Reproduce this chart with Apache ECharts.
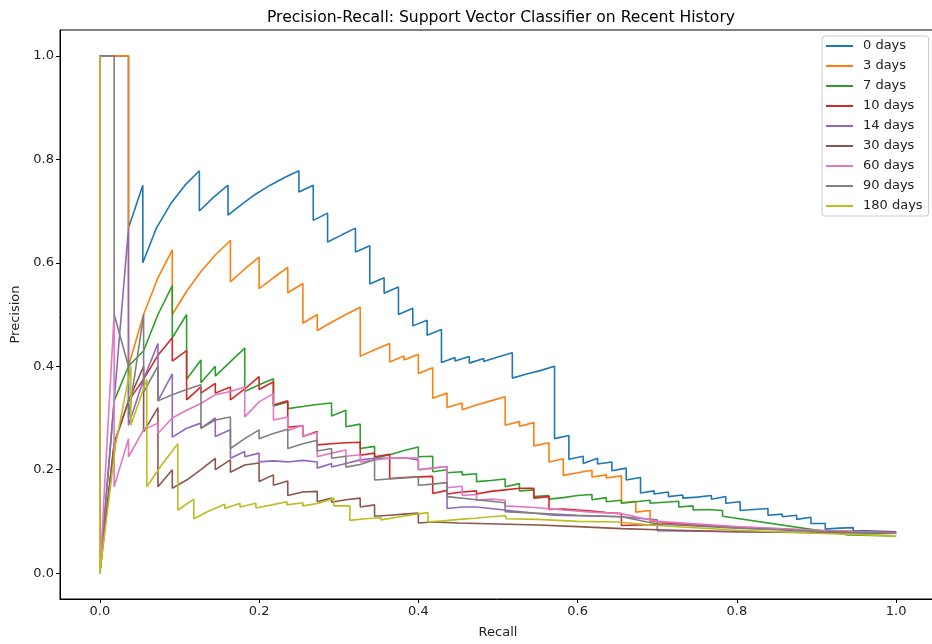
<!DOCTYPE html>
<html>
<head>
<meta charset="utf-8">
<script src="https://cdn.jsdelivr.net/npm/echarts@6/dist/echarts.min.js"></script>
<style>
  html, body { margin: 0; padding: 0; background: #ffffff; }
  #chart { width: 932px; height: 644px; }
</style>
</head>
<body>
<div id="chart"></div>
<script>
// Precision-recall curves, one per history window (recall on x, precision on y).
const seriesNames = ['0 days', '3 days', '7 days', '10 days', '14 days', '30 days', '60 days', '90 days', '180 days'];
const seriesColors = ['#1f77b4', '#ff7f0e', '#2ca02c', '#d62728', '#9467bd', '#8c564b', '#e377c2', '#7f7f7f', '#bcbd22'];
const xTicks = [0.0, 0.2, 0.4, 0.6, 0.8, 1.0];
const yTicks = [0.0, 0.2, 0.4, 0.6, 0.8, 1.0];

const recall0 = [0,0.036,0.036,0.054,0.054,0.071,0.089,0.107,0.125,0.125,0.143,0.161,0.161,0.179,0.196,0.214,0.232,0.25,0.25,0.268,0.268,0.286,0.286,0.304,0.321,0.321,0.339,0.339,0.357,0.357,0.375,0.375,0.393,0.393,0.411,0.411,0.429,0.429,0.446,0.446,0.464,0.464,0.482,0.482,0.5,0.518,0.518,0.536,0.554,0.571,0.571,0.589,0.589,0.607,0.607,0.625,0.625,0.643,0.643,0.661,0.661,0.679,0.679,0.696,0.696,0.714,0.714,0.732,0.732,0.75,0.768,0.768,0.786,0.786,0.804,0.804,0.821,0.839,0.839,0.857,0.857,0.875,0.875,0.893,0.893,0.911,0.911,0.929,0.946,0.946,0.964,0.982,1.0];
const precision0 = [1.0,1.0,0.667,0.75,0.6,0.667,0.714,0.75,0.778,0.7,0.727,0.75,0.692,0.714,0.733,0.75,0.765,0.778,0.737,0.75,0.682,0.696,0.64,0.654,0.667,0.621,0.633,0.559,0.571,0.541,0.553,0.5,0.512,0.478,0.489,0.46,0.471,0.407,0.417,0.41,0.419,0.406,0.415,0.409,0.418,0.426,0.377,0.385,0.392,0.4,0.26,0.266,0.22,0.226,0.212,0.222,0.211,0.215,0.198,0.203,0.18,0.185,0.155,0.159,0.153,0.157,0.148,0.151,0.145,0.147,0.15,0.143,0.148,0.135,0.138,0.121,0.123,0.125,0.112,0.114,0.109,0.112,0.104,0.108,0.096,0.096,0.085,0.087,0.088,0.082,0.082,0.081,0.08];

const recall3 = [0,0.036,0.036,0.055,0.073,0.091,0.091,0.109,0.127,0.145,0.164,0.164,0.182,0.2,0.2,0.218,0.236,0.236,0.255,0.255,0.273,0.273,0.291,0.309,0.327,0.327,0.345,0.364,0.364,0.382,0.382,0.4,0.4,0.418,0.418,0.436,0.436,0.455,0.455,0.473,0.491,0.509,0.509,0.527,0.527,0.545,0.545,0.564,0.564,0.582,0.582,0.6,0.618,0.618,0.636,0.636,0.655,0.655,0.673,0.673,0.691,0.691,0.75,0.8,0.9,1.0];
const precision3 = [1.0,1.0,0.4,0.5,0.571,0.625,0.5,0.545,0.583,0.615,0.643,0.563,0.588,0.611,0.55,0.571,0.591,0.542,0.56,0.483,0.5,0.469,0.485,0.5,0.514,0.419,0.432,0.444,0.408,0.42,0.412,0.423,0.386,0.397,0.338,0.348,0.32,0.329,0.316,0.325,0.333,0.341,0.286,0.293,0.284,0.291,0.246,0.252,0.215,0.221,0.189,0.194,0.199,0.186,0.19,0.184,0.188,0.136,0.139,0.118,0.121,0.1,0.093,0.089,0.083,0.077];

const recall7 = [0,0,0.018,0.036,0.055,0.073,0.091,0.091,0.109,0.109,0.127,0.127,0.145,0.145,0.164,0.182,0.182,0.2,0.218,0.218,0.236,0.236,0.255,0.273,0.291,0.291,0.309,0.309,0.327,0.327,0.345,0.345,0.364,0.382,0.4,0.4,0.418,0.418,0.436,0.436,0.455,0.455,0.473,0.473,0.491,0.509,0.509,0.527,0.527,0.545,0.545,0.564,0.564,0.582,0.6,0.618,0.618,0.636,0.636,0.655,0.655,0.673,0.691,0.691,0.709,0.727,0.727,0.745,0.745,0.764,0.782,0.782,0.94,1.0];
const precision7 = [1.0,0,0.333,0.4,0.43,0.5,0.556,0.455,0.5,0.375,0.412,0.368,0.4,0.381,0.409,0.435,0.351,0.364,0.376,0.323,0.331,0.318,0.322,0.326,0.329,0.304,0.315,0.283,0.288,0.241,0.245,0.222,0.229,0.237,0.244,0.225,0.226,0.196,0.2,0.194,0.196,0.19,0.192,0.177,0.179,0.182,0.167,0.173,0.159,0.161,0.148,0.15,0.143,0.146,0.15,0.152,0.142,0.146,0.138,0.141,0.135,0.138,0.141,0.135,0.137,0.139,0.128,0.13,0.122,0.123,0.121,0.11,0.074,0.072];

const recall10 = [0,0,0.018,0.036,0.055,0.073,0.091,0.091,0.109,0.109,0.127,0.127,0.145,0.145,0.164,0.164,0.182,0.2,0.2,0.218,0.218,0.236,0.236,0.255,0.255,0.273,0.273,0.291,0.309,0.327,0.327,0.345,0.345,0.364,0.364,0.382,0.4,0.418,0.418,0.436,0.436,0.455,0.473,0.473,0.491,0.509,0.527,0.545,0.545,0.564,0.564,0.582,0.6,0.618,0.636,0.655,0.655,0.7,0.72,0.8,0.9,1.0];
const precision10 = [1.0,0,0.25,0.333,0.375,0.421,0.455,0.41,0.43,0.335,0.36,0.348,0.367,0.348,0.36,0.335,0.356,0.38,0.355,0.37,0.325,0.333,0.282,0.285,0.264,0.274,0.248,0.25,0.252,0.253,0.228,0.232,0.225,0.23,0.183,0.185,0.186,0.187,0.154,0.16,0.153,0.157,0.159,0.153,0.158,0.161,0.164,0.164,0.145,0.148,0.123,0.124,0.122,0.12,0.117,0.115,0.092,0.094,0.096,0.088,0.082,0.079];

const recall14 = [0,0,0.018,0.036,0.036,0.055,0.073,0.073,0.091,0.091,0.109,0.127,0.127,0.145,0.145,0.164,0.164,0.182,0.182,0.2,0.2,0.218,0.236,0.255,0.273,0.273,0.291,0.291,0.309,0.327,0.345,0.364,0.382,0.4,0.4,0.418,0.436,0.436,0.455,0.473,0.52,0.57,0.655,0.7,0.7,0.8,0.9,1.0];
const precision14 = [1.0,0,0.333,0.667,0.286,0.375,0.444,0.333,0.385,0.263,0.28,0.29,0.28,0.3,0.264,0.277,0.222,0.235,0.225,0.232,0.215,0.217,0.215,0.218,0.215,0.203,0.212,0.205,0.212,0.219,0.222,0.222,0.223,0.219,0.2,0.203,0.206,0.125,0.128,0.128,0.12,0.112,0.109,0.103,0.082,0.08,0.079,0.078];

const recall30 = [0,0,0.018,0.036,0.055,0.055,0.073,0.073,0.091,0.091,0.109,0.127,0.145,0.145,0.164,0.164,0.182,0.2,0.2,0.218,0.218,0.236,0.236,0.255,0.273,0.273,0.291,0.291,0.309,0.327,0.327,0.345,0.345,0.364,0.382,0.4,0.4,0.418,0.45,0.5,0.55,0.6,0.655,0.7,0.8,0.9,1.0];
const precision30 = [1.0,0,0.25,0.333,0.4,0.273,0.32,0.167,0.2,0.164,0.18,0.2,0.222,0.2,0.219,0.195,0.209,0.213,0.177,0.19,0.17,0.178,0.15,0.157,0.158,0.138,0.145,0.137,0.142,0.145,0.128,0.132,0.11,0.112,0.114,0.116,0.097,0.099,0.097,0.095,0.093,0.09,0.086,0.084,0.08,0.078,0.077];

const recall60 = [0,0,0.018,0.018,0.036,0.036,0.055,0.073,0.073,0.091,0.109,0.127,0.145,0.164,0.182,0.182,0.2,0.218,0.218,0.236,0.236,0.255,0.255,0.273,0.273,0.291,0.309,0.309,0.327,0.327,0.345,0.364,0.382,0.4,0.4,0.418,0.436,0.436,0.455,0.455,0.473,0.473,0.491,0.509,0.509,0.545,0.582,0.618,0.655,0.7,0.8,0.9,1.0];
const precision60 = [1.0,0,0.5,0.167,0.26,0.225,0.277,0.29,0.27,0.3,0.315,0.328,0.345,0.351,0.36,0.302,0.331,0.347,0.296,0.302,0.276,0.286,0.265,0.272,0.225,0.232,0.238,0.226,0.229,0.215,0.219,0.222,0.222,0.223,0.2,0.203,0.206,0.165,0.168,0.15,0.152,0.141,0.143,0.141,0.13,0.127,0.122,0.118,0.115,0.1,0.09,0.083,0.078];

const recall90 = [0,0.018,0.018,0.036,0.036,0.055,0.055,0.073,0.073,0.091,0.109,0.127,0.127,0.145,0.164,0.164,0.182,0.2,0.2,0.218,0.236,0.236,0.255,0.273,0.273,0.291,0.291,0.309,0.309,0.327,0.345,0.345,0.364,0.382,0.4,0.4,0.418,0.436,0.436,0.473,0.509,0.509,0.545,0.6,0.655,0.7,0.8,0.9,1.0];
const precision90 = [1.0,1.0,0.5,0.4,0.3,0.5,0.35,0.4,0.333,0.345,0.355,0.364,0.28,0.296,0.302,0.241,0.26,0.277,0.26,0.27,0.278,0.241,0.25,0.257,0.236,0.241,0.222,0.226,0.205,0.21,0.219,0.18,0.182,0.184,0.186,0.17,0.172,0.175,0.148,0.142,0.136,0.119,0.116,0.112,0.109,0.095,0.087,0.081,0.077];

const recall180 = [0,0,0.02,0.039,0.039,0.059,0.059,0.078,0.098,0.098,0.118,0.118,0.137,0.157,0.157,0.176,0.176,0.196,0.196,0.216,0.235,0.235,0.255,0.255,0.275,0.294,0.294,0.314,0.314,0.333,0.353,0.353,0.373,0.392,0.412,0.412,0.431,0.451,0.471,0.49,0.51,0.51,0.55,0.6,0.65,0.7,0.8,0.9,1.0];
const precision180 = [1.0,0,0.25,0.4,0.286,0.375,0.167,0.21,0.25,0.122,0.143,0.105,0.12,0.133,0.125,0.135,0.128,0.135,0.126,0.132,0.138,0.132,0.136,0.13,0.135,0.145,0.13,0.13,0.102,0.105,0.107,0.103,0.108,0.113,0.117,0.099,0.101,0.104,0.106,0.109,0.111,0.105,0.104,0.1,0.099,0.092,0.083,0.077,0.072];

const curveRecall = [recall0, recall3, recall7, recall10, recall14, recall30, recall60, recall90, recall180];
const curvePrecision = [precision0, precision3, precision7, precision10, precision14, precision30, precision60, precision90, precision180];

const FONT = 'DejaVu Sans';
const tickText = { fontFamily: FONT, fontSize: 13, color: '#222' };

const series = seriesNames.map((name, i) => ({
  name: name,
  type: 'line',
  data: curveRecall[i].map((r, k) => [r, curvePrecision[i][k]]),
  showSymbol: false,
  symbol: 'none',
  lineStyle: { width: 1.6, color: seriesColors[i] },
  itemStyle: { color: seriesColors[i] },
  emphasis: { disabled: true },
  animation: false
}));

const chart = echarts.init(document.getElementById('chart'), null, { renderer: 'canvas' });
chart.setOption({
  animation: false,
  backgroundColor: '#ffffff',
  title: {
    text: 'Precision-Recall: Support Vector Classifier on Recent History',
    left: 496,
    top: 5,
    textAlign: 'center',
    textStyle: { fontFamily: FONT, fontSize: 15.6, fontWeight: 'normal', color: '#000' }
  },
  grid: {
    left: 60, top: 30, width: 876, height: 569,
    outerBoundsMode: 'none',
    show: true, borderColor: '#000', borderWidth: 1, backgroundColor: 'transparent'
  },
  legend: {
    data: seriesNames,
    orient: 'vertical',
    left: 822,
    top: 36,
    padding: [3, 6, 3, 4],
    itemGap: 6,
    itemWidth: 27,
    itemHeight: 2,
    icon: 'rect',
    backgroundColor: 'rgba(255,255,255,0.8)',
    borderColor: '#cccccc',
    borderWidth: 1,
    borderRadius: 3,
    textStyle: { fontFamily: FONT, fontSize: 13, color: '#222', lineHeight: 14, padding: [0, 0, 0, 5] }
  },
  xAxis: {
    type: 'value',
    min: -0.05,
    max: 1.05,
    name: 'Recall',
    nameLocation: 'middle',
    nameGap: 27,
    nameTextStyle: { fontFamily: FONT, fontSize: 13, color: '#222' },
    axisLine: { show: true, onZero: false, lineStyle: { color: '#000', width: 1 } },
    axisTick: { show: true, length: 4, lineStyle: { color: '#000' }, customValues: xTicks },
    axisLabel: { customValues: xTicks, formatter: v => v.toFixed(1), margin: 6, ...tickText },
    splitLine: { show: false }
  },
  yAxis: {
    type: 'value',
    min: -0.05,
    max: 1.05,
    name: 'Precision',
    nameLocation: 'middle',
    nameRotate: 90,
    nameGap: 34,
    nameTextStyle: { fontFamily: FONT, fontSize: 13, color: '#222' },
    axisLine: { show: true, onZero: false, lineStyle: { color: '#000', width: 1 } },
    axisTick: { show: true, length: 4, lineStyle: { color: '#000' }, customValues: yTicks },
    axisLabel: { customValues: yTicks, formatter: v => v.toFixed(1), margin: 6, ...tickText },
    splitLine: { show: false }
  },
  series: series
});
</script>
</body>
</html>
